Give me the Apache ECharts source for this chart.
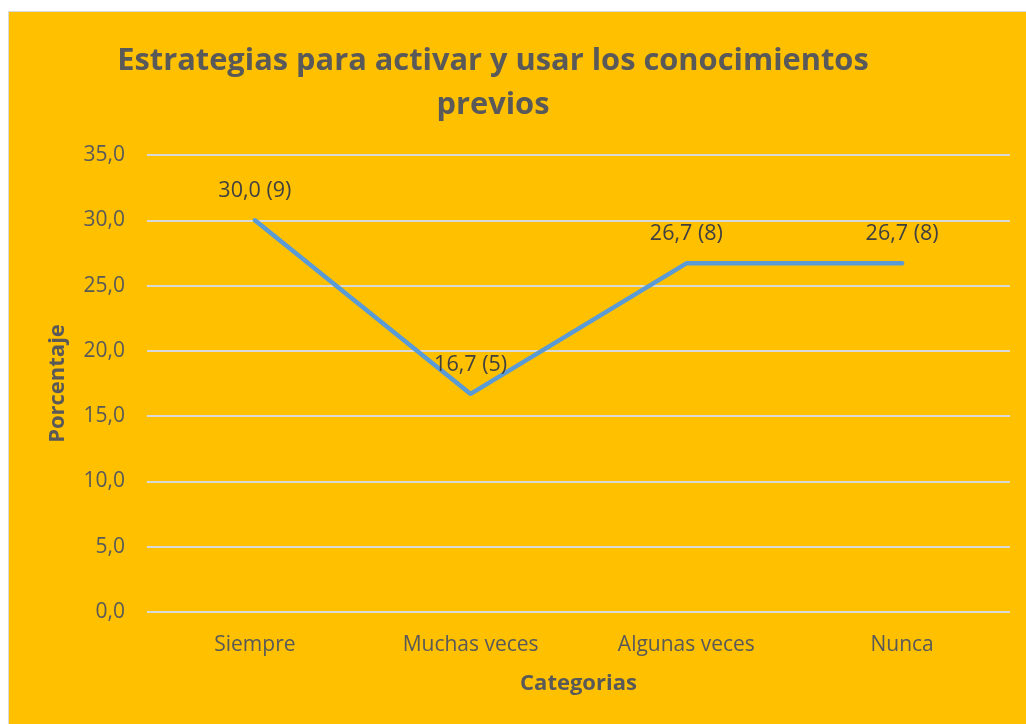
<!DOCTYPE html>
<html>
<head>
<meta charset="utf-8">
<script src="https://cdn.jsdelivr.net/npm/echarts@6/dist/echarts.min.js"></script>
<style>
  html, body {margin: 0; padding: 0; background: #fff;}
  #chart {position: absolute; left: 8px; top: 11px; width: 1017px; height: 712px;
          background: #FFC000; border: 1px solid #d9d9d9; border-right: none; border-bottom: none;}
</style>
</head>
<body>
<div id="chart"></div>
<script>
// datos
const categorias = ['Siempre', 'Muchas veces', 'Algunas veces', 'Nunca'];
const porcentajes = [30.0, 16.7, 26.7, 26.7];
const frecuencias = [9, 5, 8, 8];
const yTicks = {min: 0, max: 35, interval: 5};

const fmt = v => v.toFixed(1).replace('.', ',');
const font = '"Open Sans", "Noto Sans", sans-serif';

const myChart = echarts.init(document.getElementById('chart'));
myChart.setOption({
  animation: false,
  textStyle: {fontFamily: font},
  title: {
    text: 'Estrategias para activar y usar los conocimientos\nprevios',
    left: 479,
    top: 22,
    textAlign: 'center',
    textStyle: {fontSize: 30.8, fontWeight: 'bold', color: '#595959', lineHeight: 44, fontFamily: font}
  },
  grid: {left: 138, top: 143, width: 863, height: 457, containLabel: false},
  xAxis: {
    type: 'category',
    data: categorias,
    boundaryGap: true,
    axisLine: {show: false},
    axisTick: {show: false},
    axisLabel: {color: '#595959', fontSize: 21, margin: 23},
    name: 'Categorias',
    nameLocation: 'middle',
    nameGap: 61,
    nameTextStyle: {color: '#595959', fontSize: 22, fontWeight: 'bold'}
  },
  yAxis: {
    type: 'value',
    min: yTicks.min,
    max: yTicks.max,
    interval: yTicks.interval,
    axisLabel: {color: '#595959', fontSize: 21, margin: 22, formatter: v => fmt(v)},
    splitLine: {lineStyle: {color: '#d9d9d9', width: 2}},
    name: 'Porcentaje',
    nameLocation: 'middle',
    nameGap: 78,
    nameTextStyle: {color: '#595959', fontSize: 22, fontWeight: 'bold'}
  },
  series: [{
    type: 'line',
    data: porcentajes,
    showSymbol: true,
    symbol: 'circle',
    symbolSize: 3,
    itemStyle: {color: '#5B9BD5'},
    lineStyle: {color: '#5B9BD5', width: 4.5, cap: 'round'},
    label: {
      show: true,
      position: 'top',
      distance: 17,
      color: '#404040',
      fontSize: 21.5,
      formatter: p => fmt(p.value) + ' (' + frecuencias[p.dataIndex] + ')'
    }
  }]
});
</script>
</body>
</html>
